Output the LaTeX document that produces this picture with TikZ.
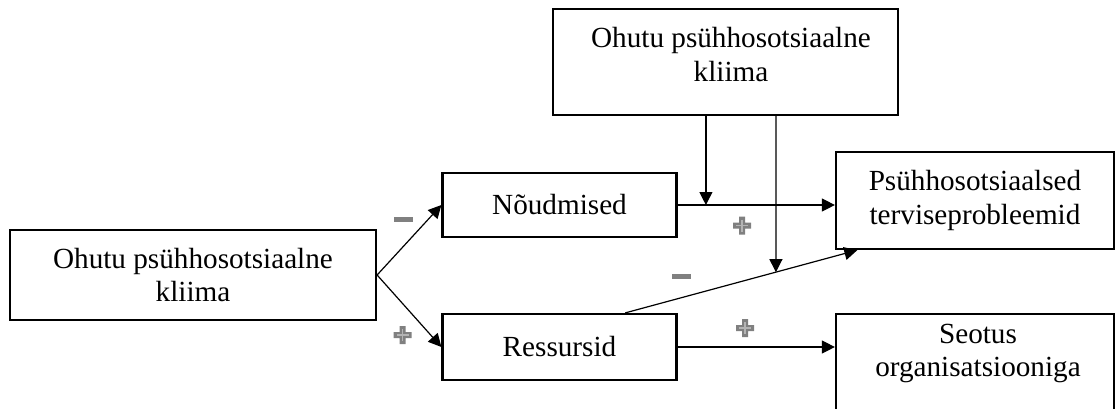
\documentclass[tikz,border=0pt]{standalone}
\usepackage{fontspec}
\setmainfont{Liberation Serif}
\usetikzlibrary{arrows.meta,calc}
\definecolor{signgray}{RGB}{128,128,128}
\definecolor{signlight}{RGB}{180,180,180}
\tikzset{
  boxtext/.style={font=\fontsize{29.2pt}{33.6pt}\selectfont},
  box/.style={draw,line width=2.2pt,rectangle,inner sep=0pt,align=center,boxtext},
  txt/.style={inner sep=0pt,align=center,boxtext},
  arr/.style={line width=1.2pt,-{Triangle[length=13pt,width=13pt]}},
  minusmark/.pic={\fill[signgray] (-9.5,-2.5) rectangle (9.5,2.5);},
  plusmark/.pic={
    \fill[signgray] (-9,-3) rectangle (9,3) (-3,-9) rectangle (3,9);
    \draw[signlight,line width=1.4pt] (-6,0) -- (6,0) (0,-6) -- (0,6);
  }
}
\begin{document}
\begin{tikzpicture}[x=1pt,y=-1pt]
\useasboundingbox (0,0) rectangle (1116,408);
\clip (0,0) rectangle (1116,408);

% boxes
\node[box,minimum width=366pt,minimum height=90pt] (L) at (193,275) {Ohutu psühhosotsiaalne\\kliima};
\node[box,minimum width=345pt,minimum height=106pt] (T) at (725.5,62) {};
\node[txt] (Tt) at (731,54.5) {Ohutu psühhosotsiaalne\\kliima};
\node[box,minimum width=234pt,minimum height=64pt] (N) at (559.5,205) {Nõudmised};
\node[box,minimum width=234pt,minimum height=66pt] (R) at (559.5,347) {Ressursid};
\node[box,minimum width=278pt,minimum height=97pt] (P) at (975,200.5) {Psühhosotsiaalsed\\terviseprobleemid};
\node[box,minimum width=278pt,minimum height=97pt] (S) at (975,362.5) {};
\node[txt] (St) at (978,353.5) {Seotus\\organisatsiooniga};

% helper points
\coordinate (t1) at ([xshift=154pt]T.south west);
\coordinate (t2) at ([xshift=224pt]T.south west);
\coordinate (t2b) at (t2 |- R.south);
\coordinate (d1) at ($(R.north west)!0.778!(R.north east)$);
\coordinate (d2) at ($(P.south west)!0.08!(P.south east)$);

% connectors
\draw[arr] (L.east) -- (N.west);
\draw[arr] (L.east) -- (R.west);
\draw[arr] (N.east) -- (N.east -| P.west);
\draw[arr] (R.east) -- (R.east -| S.west);
\draw[arr] (d1) -- (d2);
\draw[arr] (t1) -- (t1 |- N.east);
\draw[arr] (t2) -- (intersection of t2--t2b and d1--d2);

% signs
\pic at (403.5,219.5) {minusmark};
\pic at (681.5,276.5) {minusmark};
\pic at (402.5,335) {plusmark};
\pic at (742,225.5) {plusmark};
\pic at (745,328) {plusmark};
\end{tikzpicture}
\end{document}
